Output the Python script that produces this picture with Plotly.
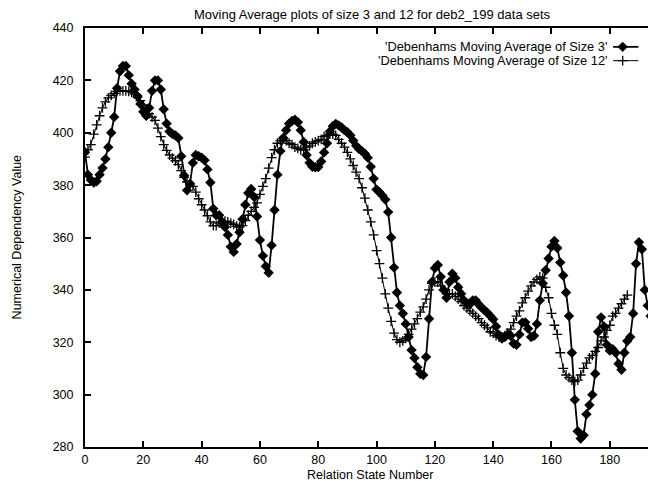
import plotly.graph_objects as go

# Moving average of size 3, one value per relation state (starting at state 0)
ma3 = [
    392.6, 384.0, 382.0, 381.0, 381.5, 384.0, 386.5, 390.0, 394.5, 400.0,
    406.0, 417.0, 423.5, 425.5, 425.5, 422.0, 418.7, 416.5, 414.0, 411.0,
    408.0, 406.5, 409.5, 416.0, 420.0, 420.0, 416.5, 409.0, 403.5, 400.5,
    399.5, 399.0, 398.0, 391.0, 383.7, 378.0, 380.5, 388.5, 391.5, 391.0,
    390.5, 389.5, 386.0, 381.0, 371.0, 368.5, 368.5, 366.0, 364.0, 361.0,
    356.5, 354.5, 357.5, 362.0, 367.0, 372.5, 377.0, 378.5, 375.5, 368.0,
    359.0, 353.0, 349.0, 346.5, 357.0, 370.5, 384.0, 393.0, 398.0, 401.0,
    403.5, 404.5, 405.0, 404.0, 401.0, 396.5, 391.5, 388.5, 387.0, 386.8,
    386.9, 389.0, 392.5, 396.0, 400.5, 402.5, 403.4, 402.8, 402.0, 401.0,
    400.2, 399.0, 397.0, 395.0, 393.8, 393.0, 392.0, 390.5, 387.0, 382.5,
    378.3, 377.3, 376.0, 374.5, 369.7, 360.0, 348.5, 339.0, 334.0, 331.0,
    327.0, 322.0, 317.0, 314.0, 310.5, 308.0, 307.5, 314.4, 329.0, 343.0,
    348.3, 349.5, 345.0, 340.0, 337.0, 343.0, 346.2, 344.5, 341.0, 338.5,
    336.0, 334.8, 334.5, 336.0, 336.0, 334.5, 333.3, 332.2, 331.3, 330.0,
    328.8, 326.0, 322.8, 321.4, 322.0, 323.0, 322.5, 319.5, 319.0, 323.0,
    327.5, 327.6, 325.2, 322.0, 322.5, 327.0, 336.0, 342.5, 347.5, 352.0,
    356.5, 358.7, 356.0, 350.5, 345.5, 339.0, 330.0, 316.0, 298.0, 286.0,
    283.2, 284.5, 292.5, 296.0, 300.0, 308.0, 324.0, 329.5, 326.0, 319.0,
    316.8, 317.3, 316.0, 311.8, 309.5, 316.0, 320.5, 322.0, 331.0, 350.0,
    358.2, 355.5, 340.0, 334.0, 330.0,
]

# Moving average of size 12, one value per relation state (starting at state 0)
ma12 = [
    390.7, 393.5, 395.5, 399.5, 403.0, 406.5, 409.5, 411.8, 413.3, 414.3,
    415.0, 415.8, 416.0, 416.0, 416.0, 415.8, 415.5, 414.8, 413.5, 412.3,
    410.5, 409.0, 407.3, 406.0, 404.7, 401.8, 398.5, 395.5, 393.3, 391.5,
    390.3, 389.3, 387.8, 385.5, 383.0, 381.2, 380.0, 379.5, 377.3, 374.8,
    372.5, 370.5, 368.3, 366.0, 364.5, 364.5, 365.5, 366.0, 366.2, 366.0,
    365.5, 365.0, 364.3, 364.0, 364.5, 366.5, 368.5, 370.0, 371.5, 373.2,
    376.5, 379.5, 382.5, 386.5, 390.5, 393.5, 396.0, 397.0, 397.7, 397.0,
    396.0, 395.5, 394.5, 394.0, 393.5, 393.5, 394.5, 395.0, 396.0, 396.5,
    397.0, 397.5, 398.5, 399.0, 399.5, 399.5, 399.0, 397.5, 396.0, 394.5,
    392.5, 390.0, 387.5, 385.0, 382.5, 379.0, 375.0, 370.5, 366.0, 361.0,
    355.0, 350.0, 344.5, 338.5, 333.0, 328.0, 323.5, 321.0, 320.0, 320.5,
    321.5, 323.0, 325.0, 327.0, 329.0, 331.5, 333.5, 336.5, 340.0, 342.5,
    343.0, 343.0, 341.5, 340.0, 338.5, 338.5, 338.5, 337.5, 336.5, 335.5,
    334.0, 333.0, 332.0, 331.0, 330.0, 329.0, 327.5, 326.5, 325.5, 324.0,
    323.5, 322.5, 322.0, 322.0, 322.5, 323.5, 325.0, 327.5, 330.0, 332.0,
    335.0, 337.0, 339.5, 341.5, 343.0, 344.0, 345.0, 344.5, 341.0, 337.0,
    331.0, 326.5, 323.0, 316.0, 310.0, 307.5, 306.5, 305.5, 305.0, 305.5,
    307.5, 310.0, 312.0, 314.0, 315.0, 316.5, 318.0, 320.5, 322.0, 324.5,
    326.5, 330.0, 331.0, 333.0, 334.7, 336.5, 338.0,
]

x_ticks = list(range(0, 181, 20))
y_ticks = list(range(280, 441, 20))

label3 = "'Debenhams Moving Average of Size 3'"
label12 = "'Debenhams Moving Average of Size 12'"
title_text = "Moving Average plots of size 3 and 12 for deb2_199 data sets"

FONT = "Liberation Sans, Arial, Helvetica, sans-serif"
INK = "black"

fig = go.Figure()

fig.add_trace(go.Scatter(
    x=list(range(len(ma3))), y=ma3, mode="lines+markers",
    line=dict(color=INK, width=1.8),
    marker=dict(symbol="diamond", size=8, color=INK),
    showlegend=False,
))
fig.add_trace(go.Scatter(
    x=list(range(len(ma12))), y=ma12, mode="lines+markers",
    line=dict(color=INK, width=1),
    marker=dict(symbol="cross-thin", size=7, line=dict(color=INK, width=1.3)),
    showlegend=False,
))

# Key samples drawn on a hidden unit overlay, to the right of each label
key_x = [0.938, 0.983]
key_mid = [0.955]
row_y = [0.955, 0.922]
fig.add_trace(go.Scatter(
    x=key_x, y=[row_y[0]] * 2, xaxis="x2", yaxis="y2", mode="lines",
    line=dict(color=INK, width=1.8), showlegend=False, hoverinfo="skip"))
fig.add_trace(go.Scatter(
    x=key_mid, y=[row_y[0]], xaxis="x2", yaxis="y2", mode="markers",
    marker=dict(symbol="diamond", size=8, color=INK), showlegend=False, hoverinfo="skip"))
fig.add_trace(go.Scatter(
    x=key_x, y=[row_y[1]] * 2, xaxis="x2", yaxis="y2", mode="lines",
    line=dict(color=INK, width=1), showlegend=False, hoverinfo="skip"))
fig.add_trace(go.Scatter(
    x=key_mid, y=[row_y[1]], xaxis="x2", yaxis="y2", mode="markers",
    marker=dict(symbol="cross-thin", size=7, line=dict(color=INK, width=1.3)),
    showlegend=False, hoverinfo="skip"))

fig.update_layout(
    width=648, height=481,
    margin=dict(l=85, r=0, t=28, b=34),
    paper_bgcolor="white", plot_bgcolor="white",
    font=dict(family=FONT, size=12.5, color=INK),
    showlegend=False,
    xaxis=dict(
        range=[0, 193.1], tickvals=x_ticks, ticks="inside", ticklen=6,
        tickwidth=1.5, tickcolor=INK, showline=True, linecolor=INK, linewidth=2,
        mirror="ticks", showgrid=False, zeroline=False,
        tickfont=dict(size=12.5), ticklabelstandoff=0,
    ),
    yaxis=dict(
        range=[280, 440], tickvals=y_ticks, ticks="inside", ticklen=6,
        tickwidth=1.5, tickcolor=INK, showline=True, linecolor=INK, linewidth=2,
        mirror=False, showgrid=False, zeroline=False,
        tickfont=dict(size=12.5), ticklabelstandoff=7,
    ),
    xaxis2=dict(overlaying="x", range=[0, 1], visible=False),
    yaxis2=dict(overlaying="y", range=[0, 1], visible=False),
    annotations=[
        dict(text=title_text, xref="paper", yref="paper", x=0.51, y=1.033,
             xanchor="center", yanchor="middle", showarrow=False,
             font=dict(size=13)),
        dict(text="Relation State Number", xref="paper", yref="paper",
             x=0.506, y=-0.067, xanchor="center", yanchor="middle",
             showarrow=False, font=dict(size=12.5)),
        dict(text="Numerical Dependency Value", xref="paper", yref="paper",
             x=-0.121, y=0.5, xanchor="center", yanchor="middle",
             textangle=-90, showarrow=False, font=dict(size=12.5)),
        dict(text=label3, xref="paper", yref="paper", x=0.931, y=row_y[0],
             xanchor="right", yanchor="middle", showarrow=False,
             font=dict(size=12.8)),
        dict(text=label12, xref="paper", yref="paper", x=0.931, y=row_y[1],
             xanchor="right", yanchor="middle", showarrow=False,
             font=dict(size=12.8)),
    ],
)

fig.write_html("out.html")
